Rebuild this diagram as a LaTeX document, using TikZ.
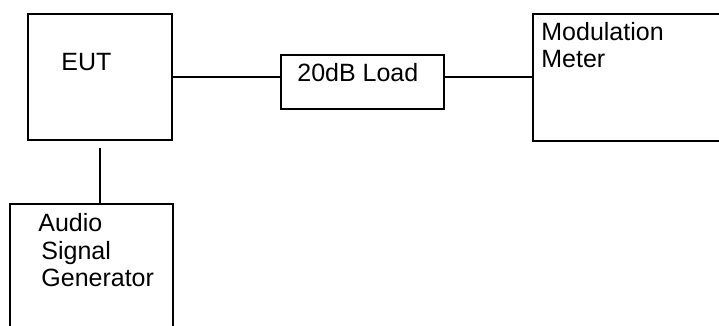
\documentclass[tikz,border=0pt]{standalone}
\usepackage{fontspec}
\setmainfont{Liberation Sans}
\usetikzlibrary{positioning}
\usetikzlibrary{calc}
\tikzstyle{unit}=[rectangle,draw=black,line width=1pt,inner sep=0pt]
\tikzstyle{wire} = [draw,line width=1pt]
\tikzstyle{caption} = [anchor=base west,inner sep=0pt,font=\fontsize{12.5}{14}\selectfont]

\begin{document}
\begin{tikzpicture}[x=0.5pt,y=-0.5pt]
    % Frame of the picture
    \clip (0,0) rectangle (719,326);
    % First we draw the boxes
    \foreach \pos/\name/\w/\h in {{(100,77)/EUT/72pt/63pt}, {(362.5,82)/Load/81.5pt/27pt}, {(636.5,77.5)/Meter/103.5pt/63.5pt}, {(91.5,274.5)/ASG/81.5pt/70.5pt}}
        \node[unit, minimum width=\w, minimum height=\h] (\name) at \pos {};

    % Then the texts, line by line
    \foreach \pos/\name/\txt in {{(61,71)/EUTtext/EUT}, {(297,82)/Loadtext/20dB Load}, {(541,41)/Metertexta/Modulation}, {(541,68)/Metertextb/Meter}, {(38,232)/ASGtexta/Audio}, {(41,260)/ASGtextb/Signal}, {(41,287)/ASGtextc/Generator}}
        \node[caption] (\name) at \pos {\txt};

    % Connect the boxes
    \path[wire] (EUT.east) -- (EUT.east -| Load.west);
    \path[wire] (Load.east |- Meter.west) -- (Meter.west);
    \coordinate (EUTstub) at ($(EUT.south)+(0,7)$);
    \path[wire] (EUTstub) -- (EUTstub |- ASG.north);
\end{tikzpicture}
\end{document}
